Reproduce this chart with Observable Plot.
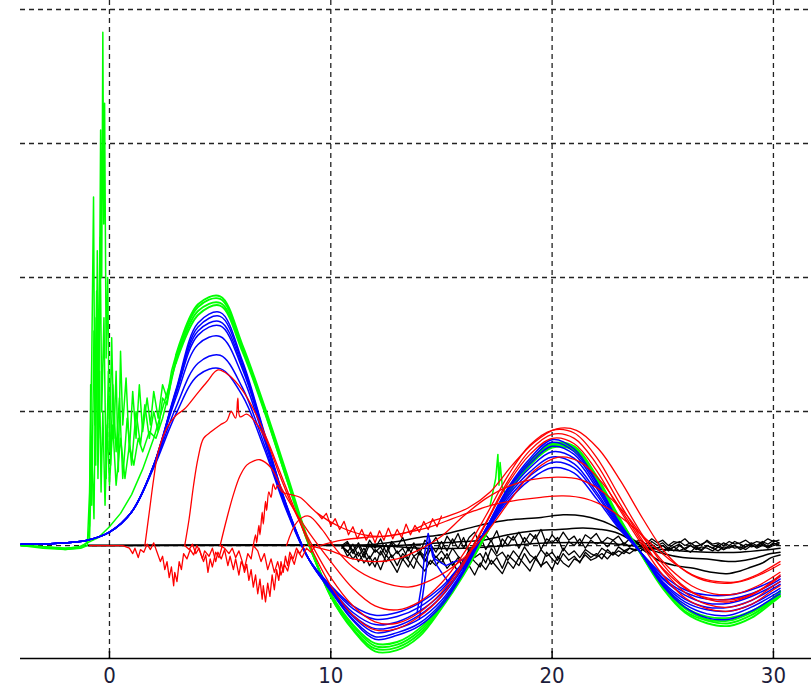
<!DOCTYPE html>
<html><head><meta charset="utf-8">
<script src="https://cdn.jsdelivr.net/npm/d3@7"></script>
<script src="https://cdn.jsdelivr.net/npm/@observablehq/plot@0.6"></script>
<style>body{margin:0;background:#fff}</style>
</head><body><div id="chart"></div>
<script>
// ---------- axis / grid ----------
const xTicks = [0, 10, 20, 30];
const gridY = [0, 1, 2, 3, 4];
const xDomain = [-4.02, 31.72];
const yDomain = [-0.843, 4.067];

// ---------- shared sample positions ----------
const gridX = [-4,-3,-2,-1,0,1,2,3,4,5,6,7,8,9,10,11,12,13,14,15,16,17,18,19,20,21,22,23,24,25,26,27,28,29,30,30.3];
const tailX = [3,4,5,6,7,8,9,10,11,12,13,14,15,16,17,18,19,20,21,22,23,24,25,26,27,28,29,30,30.3];

// ---------- blue series (on gridX) ----------
const blue1 = [0.01,0.01,0.02,0.04,0.1,0.25,0.6,1.16,1.66,1.74,1.38,0.84,0.3,-0.1,-0.34,-0.56,-0.7,-0.67,-0.6,-0.45,-0.2,0.12,0.43,0.65,0.79,0.72,0.48,0.18,-0.05,-0.3,-0.46,-0.54,-0.55,-0.49,-0.39,-0.36];
const blue2 = [0.01,0.01,0.02,0.04,0.1,0.25,0.6,1.15,1.63,1.71,1.36,0.83,0.3,-0.1,-0.34,-0.55,-0.68,-0.65,-0.58,-0.43,-0.19,0.12,0.42,0.63,0.77,0.7,0.47,0.18,-0.05,-0.29,-0.44,-0.51,-0.52,-0.46,-0.37,-0.34];
const blue3 = [0.01,0.01,0.02,0.04,0.1,0.25,0.6,1.14,1.6,1.67,1.34,0.82,0.29,-0.1,-0.33,-0.53,-0.65,-0.62,-0.55,-0.41,-0.18,0.12,0.41,0.61,0.74,0.68,0.45,0.17,-0.05,-0.28,-0.42,-0.48,-0.49,-0.44,-0.35,-0.32];
const blue4 = [0.01,0.01,0.02,0.04,0.1,0.25,0.6,1.13,1.57,1.64,1.32,0.81,0.29,-0.1,-0.33,-0.52,-0.62,-0.6,-0.52,-0.38,-0.16,0.12,0.39,0.58,0.7,0.65,0.43,0.16,-0.05,-0.27,-0.4,-0.46,-0.46,-0.41,-0.32,-0.29];
const blue5 = [0.01,0.01,0.02,0.04,0.1,0.25,0.6,1.1,1.5,1.56,1.27,0.79,0.28,-0.1,-0.32,-0.5,-0.59,-0.57,-0.49,-0.36,-0.15,0.11,0.37,0.55,0.66,0.61,0.4,0.15,-0.05,-0.25,-0.37,-0.43,-0.43,-0.38,-0.3,-0.27];
const blue6 = [0.01,0.01,0.02,0.04,0.1,0.25,0.59,1.03,1.36,1.42,1.18,0.75,0.27,-0.1,-0.31,-0.47,-0.55,-0.53,-0.46,-0.33,-0.13,0.11,0.35,0.52,0.62,0.58,0.38,0.14,-0.05,-0.24,-0.35,-0.4,-0.4,-0.36,-0.28,-0.25];
const blue7 = [0.01,0.01,0.02,0.04,0.1,0.25,0.58,0.98,1.27,1.32,1.12,0.72,0.26,-0.1,-0.3,-0.45,-0.52,-0.5,-0.43,-0.31,-0.12,0.1,0.33,0.49,0.58,0.54,0.35,0.13,-0.05,-0.22,-0.33,-0.37,-0.37,-0.33,-0.26,-0.23];
const blueWiggle1 = [[13.9,-0.5],[14.1,-0.3],[14.25,-0.05],[14.4,0.09],[14.5,0.02],[14.6,-0.08],[14.8,-0.15],[15.0,-0.2],[15.3,-0.27],[15.5,-0.22],[15.7,-0.18],[16.2,-0.12]];
const blueWiggle2 = [[14.0,-0.55],[14.3,-0.2],[14.45,0.05],[14.7,-0.1],[15.2,-0.15],[15.6,-0.12],[16.2,-0.1]];

// ---------- green series: noisy start + smooth tail (on tailX) ----------
const green1Start = [[-4,0],[-3,-0.01],[-2,-0.02],[-1.3,-0.01],[-1.0,0.02],[-0.9,0.15],[-0.85,1.2],[-0.8,0.3],[-0.7,1.6],[-0.62,0.6],[-0.55,2.2],[-0.48,1.1],[-0.4,3.1],[-0.35,2.0],[-0.3,3.83],[-0.26,2.4],[-0.22,3.3],[-0.15,1.4],[-0.08,2.0],[0.0,0.7],[0.1,1.55],[0.2,0.8],[0.3,1.3],[0.4,0.55],[0.5,1.45],[0.6,0.9],[0.75,1.25],[0.9,0.7],[1.05,1.15],[1.2,0.8],[1.35,1.2],[1.5,0.85],[1.7,1.1],[1.85,0.9],[2.0,1.15],[2.2,0.95],[2.4,1.2],[2.6,1.1],[2.8,1.3]];
const green2Start = [[-4,0],[-3,-0.02],[-2,-0.03],[-1.3,-0.02],[-1.0,0.0],[-0.9,0.4],[-0.8,1.4],[-0.72,2.6],[-0.66,0.9],[-0.58,1.9],[-0.5,0.8],[-0.42,2.3],[-0.35,1.0],[-0.25,1.7],[-0.15,0.5],[-0.05,1.3],[0.05,0.6],[0.15,1.2],[0.3,0.7],[0.45,1.1],[0.6,0.5],[0.8,0.95],[1.0,0.6],[1.2,1.0],[1.4,0.75],[1.6,1.05],[1.8,0.8],[2.0,1.0],[2.2,0.85],[2.4,1.1],[2.6,1.05],[2.8,1.25]];
const green3Start = [[-4,0],[-3,-0.01],[-2,-0.02],[-1.2,-0.01],[-0.9,0.05],[-0.8,0.7],[-0.7,0.2],[-0.6,1.7],[-0.52,0.5],[-0.45,1.3],[-0.38,0.4],[-0.3,1.0],[-0.2,0.3],[-0.1,0.9],[0.0,0.45],[0.15,0.9],[0.3,0.45],[0.5,0.8],[0.7,0.5],[0.9,0.75],[1.1,0.6],[1.3,0.8],[1.5,0.7],[1.8,0.85],[2.1,0.8],[2.4,0.95],[2.7,1.15]];
const green4Start = [[-4,0],[-3,-0.01],[-2,-0.03],[-1.5,-0.02],[-1,0.02],[-0.5,0.06],[0,0.14],[0.5,0.24],[1,0.38],[1.5,0.57],[2,0.8],[2.5,1.08]];
const green1Tail = [1.42,1.8,1.86,1.5,1.04,0.54,0.03,-0.38,-0.63,-0.79,-0.78,-0.68,-0.47,-0.22,0.08,0.4,0.63,0.76,0.74,0.52,0.22,-0.06,-0.32,-0.5,-0.58,-0.6,-0.54,-0.42,-0.38];
const green2Tail = [1.4,1.78,1.84,1.48,1.02,0.52,0.02,-0.38,-0.62,-0.77,-0.76,-0.66,-0.46,-0.21,0.08,0.39,0.62,0.75,0.73,0.51,0.21,-0.06,-0.31,-0.49,-0.56,-0.58,-0.52,-0.41,-0.37];
const green3Tail = [1.38,1.75,1.81,1.47,1.01,0.5,0.01,-0.37,-0.6,-0.75,-0.74,-0.64,-0.45,-0.2,0.09,0.39,0.61,0.74,0.72,0.5,0.21,-0.05,-0.3,-0.47,-0.55,-0.56,-0.5,-0.4,-0.35];
const green4Tail = [1.36,1.72,1.79,1.45,1.0,0.5,0.01,-0.36,-0.59,-0.73,-0.72,-0.62,-0.44,-0.19,0.09,0.38,0.6,0.73,0.71,0.49,0.2,-0.05,-0.29,-0.46,-0.53,-0.54,-0.49,-0.39,-0.34];
const greenBlip = [[17.2,0.3],[17.45,0.5],[17.55,0.68],[17.6,0.45],[17.65,0.62],[17.75,0.44],[17.9,0.38]];

// ---------- red series ([x, y] pairs) ----------
const red1 = [[1.6,0],[1.8,0.25],[2.0,0.5],[2.2,0.7],[2.6,0.88],[3.0,0.97],[3.4,1.02],[3.9,1.12],[4.4,1.22],[4.9,1.31],[5.4,1.27],[6.0,1.16],[6.5,1.02],[7.1,0.8],[7.7,0.55],[8.3,0.3],[9.0,0.02],[10,-0.3],[11,-0.52],[12,-0.63],[13,-0.62],[14,-0.53],[15,-0.38],[16,-0.14],[17,0.16],[18,0.46],[19,0.68],[20,0.8],[21,0.76],[22,0.56],[23,0.28],[24,0.02],[25,-0.22],[26,-0.39],[27,-0.47],[28,-0.49],[29,-0.44],[30,-0.33],[30.3,-0.3]];
const red2 = [[3.4,0],[3.6,0.2],[3.8,0.45],[4.0,0.65],[4.25,0.8],[4.6,0.85],[5.0,0.9],[5.3,0.93],[5.5,1.0],[5.7,0.95],[5.8,1.1],[5.9,0.96],[6.2,0.98],[6.6,0.92],[7.1,0.78],[7.7,0.52],[8.3,0.28],[9.0,0.05],[10,-0.24],[11,-0.45],[12,-0.57],[13,-0.58],[14,-0.5],[15,-0.35],[16,-0.12],[17,0.17],[18,0.48],[19,0.71],[20,0.83],[21,0.8],[22,0.61],[23,0.33],[24,0.06],[25,-0.18],[26,-0.35],[27,-0.44],[28,-0.46],[29,-0.41],[30,-0.3],[30.3,-0.27]];
const red3 = [[5.0,0],[5.3,0.2],[5.6,0.38],[5.9,0.52],[6.2,0.6],[6.5,0.63],[6.8,0.64],[7.3,0.58],[7.8,0.42],[8.4,0.25],[9.0,0.1],[10,-0.12],[11,-0.32],[12,-0.45],[13,-0.48],[14,-0.42],[15,-0.28],[16,-0.06],[17,0.22],[18,0.52],[19,0.75],[20,0.86],[21,0.84],[22,0.66],[23,0.38],[24,0.1],[25,-0.14],[26,-0.31],[27,-0.4],[28,-0.42],[29,-0.37],[30,-0.27],[30.3,-0.23]];
const red4 = [[6.5,0],[6.6,0.08],[6.65,0.02],[6.75,0.15],[6.8,0.08],[6.9,0.25],[6.95,0.16],[7.05,0.33],[7.1,0.26],[7.2,0.4],[7.3,0.36],[7.4,0.46],[7.5,0.42],[7.6,0.45],[7.8,0.4],[8.2,0.38],[8.6,0.36],[9.4,0.24],[10.4,0.14],[11.5,0.08],[12.5,0.07],[13.5,0.1],[14.4,0.17],[15.3,0.22],[16.2,0.28],[17.2,0.4],[18.2,0.6],[19.2,0.77],[20.2,0.87],[21.1,0.86],[22.1,0.72],[23.1,0.48],[24.1,0.2],[25.1,-0.05],[26.1,-0.2],[27.1,-0.27],[28.1,-0.28],[29.1,-0.23],[30.3,-0.12]];
const red5 = [[8.0,0],[8.5,0.18],[9.0,0.22],[9.6,0.12],[10.2,-0.02],[11,-0.16],[12.1,-0.26],[13.5,-0.31],[14.5,-0.26],[15.9,-0.11],[17.1,0.11],[18.2,0.36],[19.2,0.56],[20.3,0.66],[21.3,0.62],[22.3,0.46],[23.3,0.22],[24.3,-0.03],[25.3,-0.22],[26.3,-0.35],[27.3,-0.4],[28.3,-0.4],[29.3,-0.34],[30.3,-0.22]];
const red6 = [[9,0],[10,-0.04],[11,-0.1],[12,-0.12],[13,-0.1],[14,-0.03],[15,0.07],[16,0.22],[17,0.35],[18,0.44],[19,0.49],[20.3,0.51],[21.3,0.49],[22.3,0.4],[23.3,0.24],[24.3,0.02],[25.3,-0.17],[26.3,-0.3],[27.3,-0.36],[28.3,-0.36],[29.3,-0.3],[30.3,-0.2]];
const red7 = [[9.5,0],[10.5,0.04],[11.5,0.06],[12.5,0.07],[13.5,0.1],[14.5,0.14],[15.5,0.2],[16.5,0.26],[17.5,0.31],[18.5,0.34],[19.5,0.36],[20.5,0.37],[21.5,0.35],[22.5,0.28],[23.5,0.16],[24.5,0.01],[25.5,-0.13],[26.5,-0.23],[27.5,-0.27],[28.5,-0.27],[29.5,-0.21],[30.3,-0.14]];
// noisy red segments
const redNoiseA = [[-0.9,0],[0.6,0],[0.9,-0.02],[1.05,-0.06],[1.15,-0.02],[1.3,-0.09],[1.4,-0.03],[1.55,-0.05],[1.7,0.01],[1.85,-0.03],[2.0,0.02],[2.15,-0.05],[2.3,-0.12],[2.4,-0.08],[2.5,-0.18],[2.6,-0.12],[2.7,-0.24],[2.8,-0.16],[2.9,-0.3],[2.95,-0.2],[3.05,-0.27],[3.15,-0.12],[3.25,-0.18],[3.35,-0.06],[3.5,-0.1],[3.65,-0.03],[3.8,-0.07],[3.95,0.0],[4.1,-0.05],[4.25,-0.12],[4.35,-0.07],[4.45,-0.2],[4.55,-0.1],[4.65,-0.16],[4.8,-0.05],[4.95,-0.09],[5.1,0.0]];
const redNoiseB = [[3.4,0],[3.6,-0.03],[3.75,0.01],[3.9,-0.06],[4.05,-0.02],[4.2,-0.1],[4.3,-0.04],[4.5,-0.08],[4.65,-0.02],[4.8,-0.12],[4.9,-0.05],[5.05,-0.1],[5.2,-0.03],[5.35,-0.15],[5.45,-0.08],[5.6,-0.18],[5.7,-0.1],[5.85,-0.22],[5.95,-0.12],[6.1,-0.17],[6.25,-0.06],[6.4,-0.1],[6.5,0.0]];
const redNoiseC = [[5.0,0],[5.2,-0.02],[5.4,-0.06],[5.55,-0.02],[5.7,-0.09],[5.85,-0.04],[6.0,-0.12],[6.1,-0.2],[6.2,-0.14],[6.3,-0.26],[6.4,-0.18],[6.5,-0.31],[6.6,-0.22],[6.7,-0.36],[6.8,-0.25],[6.9,-0.4],[6.95,-0.3],[7.05,-0.42],[7.15,-0.28],[7.25,-0.38],[7.35,-0.22],[7.45,-0.33],[7.55,-0.18],[7.65,-0.26],[7.75,-0.12],[7.85,-0.2],[7.95,-0.08],[8.05,-0.15],[8.15,-0.05],[8.3,-0.1],[8.45,-0.02],[8.6,-0.06],[8.8,0.0]];
const redNoiseD = [[6.5,0],[6.7,-0.04],[6.85,-0.12],[7.0,-0.06],[7.15,-0.18],[7.3,-0.1],[7.45,-0.2],[7.6,-0.12],[7.75,-0.22],[7.9,-0.14],[8.05,-0.19],[8.2,-0.08],[8.35,-0.14],[8.5,-0.04],[8.7,-0.09],[8.9,-0.02],[9.1,-0.05],[9.3,0.0]];
const redBand = [[9.4,0.24],[9.6,0.2],[9.8,0.24],[10.0,0.15],[10.2,0.2],[10.4,0.12],[10.6,0.18],[10.8,0.08],[11.0,0.14],[11.2,0.05],[11.4,0.12],[11.6,0.04],[11.8,0.1],[12.0,0.02],[12.2,0.11],[12.4,0.04],[12.6,0.13],[12.8,0.05],[13.0,0.12],[13.2,0.06],[13.4,0.16],[13.6,0.08],[13.8,0.15],[14.0,0.1],[14.2,0.18],[14.4,0.12],[14.6,0.2],[14.8,0.14],[15.0,0.22]];

// ---------- black series ----------
const black1 = [[-0.95,0],[10,0],[11,0.0],[12,0.01],[13,0.03],[14,0.06],[15,0.08],[16,0.12],[17,0.16],[18,0.19],[19.5,0.21],[20.5,0.23],[21.4,0.22],[22.6,0.16],[23.7,0.04],[24.8,-0.11],[25.6,-0.15],[26.4,-0.17],[27.2,-0.2],[27.9,-0.21],[28.5,-0.19],[29,-0.16],[29.5,-0.13],[29.9,-0.09],[30.3,-0.07]];
const black2 = [[-0.95,0],[11,0],[12,-0.01],[13,0.0],[14,0.01],[15,0.02],[16,0.03],[16.9,0.04],[18,0.08],[19.2,0.11],[20.3,0.12],[21.4,0.13],[22.2,0.12],[23,0.09],[24.1,-0.01],[25,-0.06],[25.9,-0.09],[27,-0.1],[28.1,-0.12],[29,-0.1],[29.9,-0.06],[30.3,-0.05]];
const black3 = [[-0.95,0],[12,0],[14,-0.02],[16,-0.02],[18,0.0],[20,0.02],[22,0.02],[23.5,0.0],[25,-0.03],[27,-0.05],[28.5,-0.05],[30.3,-0.02]];
const noiseX = [10.5,10.75,11,11.25,11.5,11.75,12,12.25,12.5,12.75,13,13.25,13.5,13.75,14,14.25,14.5,14.75,15,15.25,15.5,15.75,16,16.25,16.5,16.75,17,17.25,17.5,17.75,18,18.25,18.5,18.75,19,19.25,19.5,19.75,20,20.25,20.5,20.75,21,21.25,21.5,21.75,22,22.25,22.5,22.75,23,23.25,23.5,23.75,24,24.25,24.5,24.75,25,25.25,25.5,25.75,26,26.25,26.5,26.75,27,27.25,27.5,27.75,28,28.25,28.5,28.75,29,29.25,29.5,29.75,30,30.25];
const blackNoise1 = [0.0,0.03,-0.04,0.02,-0.06,0.04,-0.02,0.05,-0.05,0.03,-0.01,0.06,-0.04,0.02,-0.07,0.04,0.0,0.06,
  -0.03,0.07,0.01,0.09,-0.02,0.06,0.1,0.0,0.08,0.03,0.11,-0.01,0.07,0.04,0.1,0.02,0.09,0.05,0.12,0.01,0.08,0.03,0.1,0.04,0.07,0.0,0.08,0.05,0.09,0.02,0.06,0.04,0.07,0.01,0.05,0.03,
  0.04,0.01,0.05,0.02,0.04,0.0,0.03,0.02,0.05,0.01,0.03,0.0,0.04,0.01,0.02,0.0,0.03,0.01,0.02,0.04,0.01,0.03,0.02,0.05,0.03,0.04];
const blackNoise2 = [0.0,-0.05,0.01,-0.08,-0.02,-0.1,-0.03,-0.07,0.01,-0.09,-0.04,-0.11,-0.02,-0.08,-0.05,-0.12,-0.03,-0.09,
  -0.04,-0.1,-0.02,-0.08,-0.12,-0.03,-0.09,-0.06,-0.13,-0.02,-0.08,-0.05,-0.11,-0.04,-0.09,-0.01,-0.07,-0.1,-0.03,-0.08,-0.05,-0.11,-0.02,-0.07,-0.04,-0.09,-0.03,-0.06,-0.08,-0.02,-0.05,-0.07,-0.01,-0.04,-0.02,-0.03,
  0.0,-0.03,0.01,-0.02,0.0,-0.04,-0.01,0.01,-0.03,0.0,-0.02,-0.04,0.0,-0.02,0.01,-0.03,-0.01,0.0,-0.02,0.01,-0.01,0.0,0.02,-0.01,0.01,0.02];
const blackNoise3 = [0.0,-0.08,-0.03,-0.12,-0.06,-0.15,-0.09,-0.18,-0.07,-0.13,-0.2,-0.1,-0.16,-0.08,-0.14,-0.19,-0.11,-0.15,
  -0.09,-0.17,-0.12,-0.2,-0.1,-0.15,-0.22,-0.13,-0.18,-0.11,-0.16,-0.21,-0.12,-0.17,-0.09,-0.14,-0.19,-0.1,-0.15,-0.12,-0.18,-0.08,-0.13,-0.16,-0.1,-0.12,-0.07,-0.11,-0.09,-0.06,-0.1,-0.05,-0.08,-0.04,-0.06,-0.03,
  -0.04,-0.01,-0.03,-0.02,0.0,-0.03,-0.01,-0.04,-0.02,0.0,-0.03,-0.01,-0.02,-0.04,-0.01,-0.03,0.0,-0.02,-0.01,-0.03,0.0,-0.01,0.01,-0.02,0.0,0.01];
const blackNoise4 = [-0.02,0.02,-0.06,0.0,-0.09,0.01,-0.05,-0.01,-0.08,0.02,-0.06,-0.02,-0.1,0.0,-0.04,-0.08,0.01,-0.05,
  0.03,-0.04,0.05,-0.02,0.06,-0.05,0.02,0.07,-0.03,0.04,-0.06,0.05,0.0,0.07,-0.02,0.06,0.01,0.08,-0.03,0.05,0.02,0.06,-0.04,0.03,0.0,0.05,-0.02,0.04,0.01,0.03,-0.01,0.04,0.0,0.02,-0.01,0.03,
  0.02,-0.01,0.03,0.0,0.02,-0.02,0.01,0.03,0.0,0.02,-0.01,0.01,0.03,0.0,-0.01,0.02,0.0,0.03,0.01,-0.01,0.02,0.0,0.03,0.01,0.04,0.02];
const blackNoise5 = [-0.01,-0.04,-0.1,-0.05,-0.13,-0.08,-0.16,-0.04,-0.12,-0.07,-0.15,-0.06,-0.11,-0.17,-0.05,-0.1,-0.14,-0.08,
  -0.13,-0.06,-0.15,-0.09,-0.18,-0.07,-0.12,-0.16,-0.05,-0.14,-0.09,-0.17,-0.07,-0.11,-0.15,-0.06,-0.13,-0.08,-0.16,-0.05,-0.1,-0.14,-0.06,-0.11,-0.08,-0.13,-0.05,-0.09,-0.06,-0.1,-0.03,-0.07,-0.04,-0.06,-0.02,-0.04,
  -0.02,-0.05,-0.01,-0.03,-0.05,-0.02,-0.04,0.0,-0.03,-0.05,-0.01,-0.03,0.0,-0.02,-0.04,-0.01,-0.02,0.0,-0.03,-0.01,0.01,-0.02,0.0,-0.01,0.02,0.0];

// ---------- build tables ----------
const fromGrid = (xs, ys, id) => xs.map((x, i) => ({x, y: ys[i], id}));
const fromPairs = (pairs, id) => pairs.map(([x, y]) => ({x, y, id}));

const blueSmooth = [blue1,blue2,blue3,blue4,blue5,blue6,blue7].flatMap((ys, k) => fromGrid(gridX, ys, "b" + k));
const blueNoisy = [...fromPairs(blueWiggle1, "w1"), ...fromPairs(blueWiggle2, "w2")];

const greenStarts = [green1Start, green2Start, green3Start, green4Start];
const greenTails = [green1Tail, green2Tail, green3Tail, green4Tail];
const greenNoisy = greenStarts.flatMap((p, k) => [...fromPairs(p, "g" + k), {x: tailX[0], y: greenTails[k][0], id: "g" + k}])
  .concat(fromPairs(greenBlip, "blip"));
const greenSmooth = greenTails.flatMap((ys, k) => fromGrid(tailX, ys, "g" + k));

const redSmooth = [red1,red2,red3,red4,red5,red6,red7].flatMap((p, k) => fromPairs(p, "r" + k));
const redNoisy = [redNoiseA,redNoiseB,redNoiseC,redNoiseD,redBand].flatMap((p, k) => fromPairs(p, "n" + k));

const blackSmooth = [black1,black2,black3].flatMap((p, k) => fromPairs(p, "k" + k));
const blackNoisy = [blackNoise1,blackNoise2,blackNoise3,blackNoise4,blackNoise5].flatMap((ys, k) => fromGrid(noiseX, ys, "kn" + k));

const sw = 1.5;
const chart = Plot.plot({
  width: 811,
  height: 658 + 32,
  marginLeft: 20,
  marginRight: 0,
  marginTop: 0,
  marginBottom: 32,
  x: {domain: xDomain, axis: null},
  y: {domain: yDomain, axis: null},
  style: {background: "white", fontFamily: "'DejaVu Sans Condensed', 'DejaVu Sans', sans-serif", fontStretch: "condensed"},
  marks: [
    Plot.ruleY(gridY, {stroke: "#222", strokeWidth: 1.3, strokeDasharray: "5,4"}),
    Plot.ruleX(xTicks, {stroke: "#222", strokeWidth: 1.3, strokeDasharray: "5,4"}),
    Plot.line(blackSmooth, {x: "x", y: "y", z: "id", stroke: "#000", strokeWidth: sw, curve: "catmull-rom"}),
    Plot.line(blackNoisy, {x: "x", y: "y", z: "id", stroke: "#000", strokeWidth: 1.3}),
    Plot.line(greenNoisy, {x: "x", y: "y", z: "id", stroke: "#00ff00", strokeWidth: sw}),
    Plot.line(greenSmooth, {x: "x", y: "y", z: "id", stroke: "#00ff00", strokeWidth: 1.9, curve: "catmull-rom"}),
    Plot.line(blueSmooth, {x: "x", y: "y", z: "id", stroke: "#0000ff", strokeWidth: sw, curve: "catmull-rom"}),
    Plot.line(blueNoisy, {x: "x", y: "y", z: "id", stroke: "#0000ff", strokeWidth: sw}),
    Plot.line(redNoisy, {x: "x", y: "y", z: "id", stroke: "#ff0000", strokeWidth: 1.3}),
    Plot.line(redSmooth, {x: "x", y: "y", z: "id", stroke: "#ff0000", strokeWidth: 1.3, curve: "catmull-rom"}),
    Plot.ruleY([yDomain[0]], {stroke: "#000", strokeWidth: 1.5}),
    // inward tick marks at the bottom axis
    Plot.ruleX(xTicks, {y1: yDomain[0], y2: yDomain[0] + 0.052, stroke: "#000", strokeWidth: 1.5}),
    Plot.axisX({ticks: xTicks, tickSize: 0, tickPadding: 9, fontSize: 22, fill: "#1c1c3a", label: null})
  ]
});
document.getElementById("chart").appendChild(chart);
</script>
</body></html>
